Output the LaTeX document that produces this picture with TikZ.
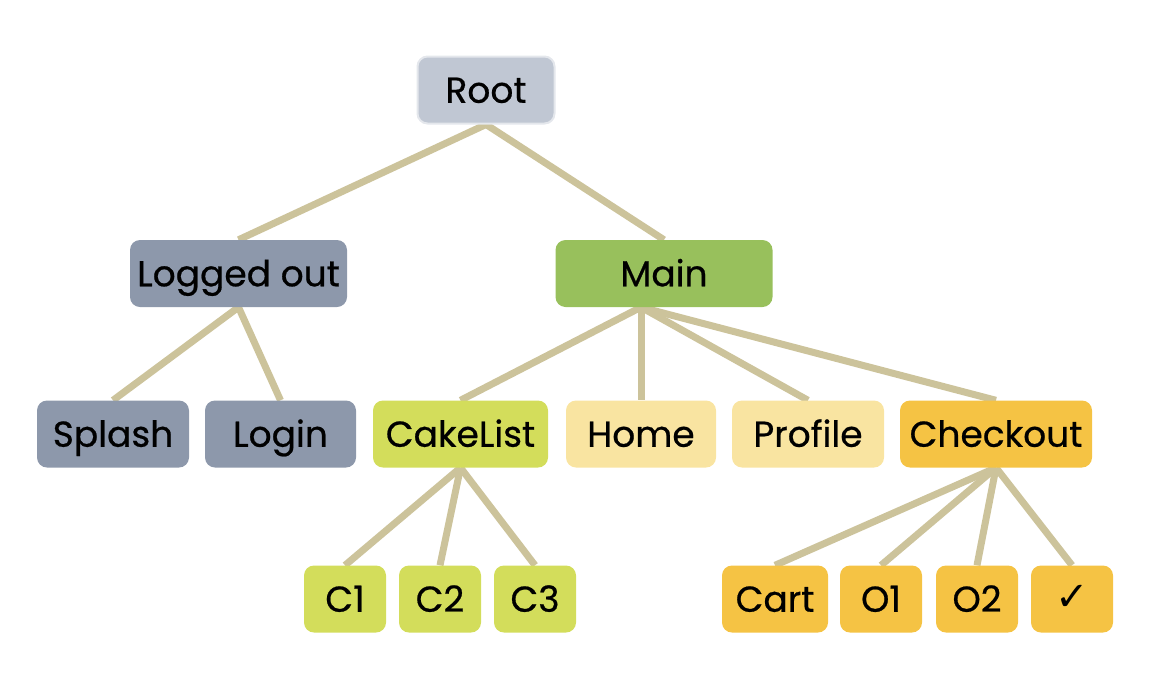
\documentclass[tikz,border=0pt]{standalone}
\usepackage{fontspec}
\usepackage{tikz}
\usetikzlibrary{positioning,calc,backgrounds}

\newfontfamily\poppins[FakeBold=0.6]{Poppins}
\newfontfamily\dejavu{DejaVu Sans}

\definecolor{rootgray}{HTML}{C0C7D3}
\definecolor{rootline}{HTML}{E4E7EC}
\definecolor{outgray}{HTML}{8D98AB}
\definecolor{maingreen}{HTML}{98C05C}
\definecolor{cakelime}{HTML}{D3DD5B}
\definecolor{tabyellow}{HTML}{F9E4A1}
\definecolor{checkorange}{HTML}{F5C344}
\definecolor{edgetan}{HTML}{CCC39B}

\tikzset{
  screen/.style={rounded corners=10pt,minimum height=67pt,inner xsep=0pt,
    text height=25.5pt,text depth=0pt,font=\poppins\fontsize{36}{43}\selectfont},
  link/.style={draw=edgetan,line width=7pt}
}

\begin{document}
\begin{tikzpicture}[x=1pt,y=-1pt]
  \useasboundingbox (0,0) rectangle (1156,672);
  % top
  \node[screen,fill=rootgray,draw=rootline,line width=2pt,minimum width=137pt] (root) at (486,90) {Root};
  \node[screen,fill=outgray,minimum width=217pt] (loggedout) at (238.5,273.5) {Logged out};
  \node[screen,fill=maingreen,minimum width=217pt] (main) at (664,273.5) {Main};
  % second row
  \node[screen,fill=outgray,minimum width=152pt] (splash) at (113,434) {Splash};
  \node[screen,fill=outgray,minimum width=151pt] (login) at (280.5,434) {Login};
  \node[screen,fill=cakelime,minimum width=175pt] (cakelist) at (460.5,434) {CakeList};
  \node[screen,fill=tabyellow,minimum width=150pt] (home) at (641,434) {Home};
  \node[screen,fill=tabyellow,minimum width=152pt] (profile) at (808,434) {Profile};
  \node[screen,fill=checkorange,minimum width=192pt] (checkout) at (996,434) {Checkout};
  % leaves
  \foreach \x/\name/\txt in {345/c1/C1,440/c2/C2,535/c3/C3}
    \node[screen,fill=cakelime,minimum width=82pt] (\name) at (\x,599) {\txt};
  \node[screen,fill=checkorange,minimum width=106pt] (cart) at (775,599) {Cart};
  \foreach \x/\name/\txt in {881/o1/O1,977/o2/O2}
    \node[screen,fill=checkorange,minimum width=82pt] (\name) at (\x,599) {\txt};
  \node[screen,fill=checkorange,minimum width=82pt,text height=22pt,
    font=\dejavu\fontsize{40}{48}\selectfont] (done) at (1072,599) {✓};

  \begin{scope}[on background layer]
    \draw[link] (root.south) -- (loggedout.north);
    \draw[link] (root.south) -- (main.north);
    \draw[link] (loggedout.south) -- (splash.north);
    \draw[link] (loggedout.south) -- (login.north);
    \coordinate (mainfoot) at (home.north |- main.south);
    \foreach \kid in {cakelist,home,profile,checkout}
      \draw[link] (mainfoot) -- (\kid.north);
    \foreach \kid in {c1,c2,c3}
      \draw[link] (cakelist.south) -- (\kid.north);
    \foreach \kid in {cart,o1,o2,done}
      \draw[link] (checkout.south) -- (\kid.north);
  \end{scope}
\end{tikzpicture}
\end{document}
